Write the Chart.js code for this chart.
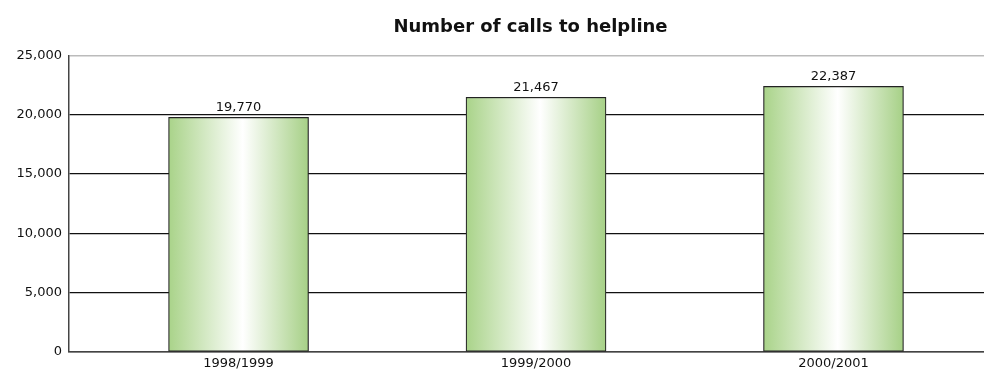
<!DOCTYPE html>
<html>
<head>
<meta charset="utf-8">
<script src="https://cdn.jsdelivr.net/npm/chart.js@4/dist/chart.umd.min.js"></script>
<style>
  html, body { margin: 0; padding: 0; background: #fff; }
  #wrap { width: 984px; height: 372px; position: relative; }
</style>
</head>
<body>
<div id="wrap"><canvas id="calls-chart"></canvas></div>
<script>
const categories = ["1998/1999", "1999/2000", "2000/2001"];
const calls = [19770, 21467, 22387];
const yTicks = [0, 5000, 10000, 15000, 20000, 25000];
const titleText = "Number of calls to helpline";

const fmt = (v) => v.toLocaleString("en-US");

// horizontal green -> white -> green fill for each bar
function barFill(ctx) {
  const chart = ctx.chart;
  const xs = chart.scales.x;
  if (!chart.chartArea || !xs || ctx.dataIndex === undefined) return "#b5d99a";
  const cx = xs.getPixelForValue(ctx.dataIndex);
  const g = chart.ctx.createLinearGradient(cx - 70, 0, cx + 70, 0);
  g.addColorStop(0, "#a9d389");
  g.addColorStop(0.53, "#ffffff");
  g.addColorStop(1, "#a6d086");
  return g;
}

const valueLabels = {
  id: "valueLabels",
  afterDatasetsDraw(chart) {
    const c = chart.ctx;
    const meta = chart.getDatasetMeta(0);
    c.save();
    c.font = "13px 'DejaVu Sans'";
    c.fillStyle = "#111";
    c.textAlign = "center";
    c.textBaseline = "alphabetic";
    meta.data.forEach((bar, i) => {
      c.fillText(fmt(calls[i]), bar.x, bar.y - 6);
    });
    // title centred over the plot area rather than the canvas
    const area = chart.chartArea;
    c.font = "bold 18px 'DejaVu Sans'";
    c.textBaseline = "middle";
    c.fillText(titleText, (area.left + area.right) / 2 + 4, 27);
    c.restore();
  }
};

new Chart(document.getElementById("calls-chart"), {
  type: "bar",
  data: {
    datasets: [{
      data: calls.map((v, i) => ({ x: i, y: v })),
      backgroundColor: barFill,
      borderColor: "#222",
      borderWidth: 1.2,
      borderSkipped: false,
      barThickness: 140
    }]
  },
  options: {
    responsive: true,
    maintainAspectRatio: false,
    animation: false,
    layout: { padding: 0 },
    plugins: {
      legend: { display: false },
      tooltip: { enabled: false },
      title: {
        // only reserves the space; text is drawn by valueLabels
        display: true,
        text: titleText,
        color: "rgba(0,0,0,0)",
        font: { family: "DejaVu Sans", size: 17, weight: "bold", lineHeight: 1.2 },
        padding: { top: 17, bottom: 18 }
      }
    },
    scales: {
      x: {
        type: "linear",
        offset: false,
        min: -0.57,
        max: 2.506,
        afterBuildTicks: (s) => { s.ticks = categories.map((_, i) => ({ value: i })); },
        afterFit: (s) => { s.height = 20; },
        grid: { display: false, drawTicks: false, offset: false },
        border: { display: true, color: "#444", width: 1.5 },
        ticks: {
          callback: (v) => categories[v],
          color: "#111",
          padding: 4,
          maxRotation: 0,
          font: { family: "DejaVu Sans", size: 13 }
        }
      },
      y: {
        min: 0,
        max: 25000,
        afterBuildTicks: (s) => { s.ticks = yTicks.map((v) => ({ value: v })); },
        afterFit: (s) => { s.width = 69; },
        grid: {
          color: (ctx) => (ctx.tick && ctx.tick.value === 25000 ? "#bbb" : "#111"),
          lineWidth: (ctx) => (ctx.tick && ctx.tick.value === 25000 ? 1.5 : 1.2),
          drawTicks: false
        },
        border: { display: true, color: "#444", width: 1.5 },
        ticks: {
          callback: (v) => fmt(v),
          color: "#111",
          padding: 7,
          font: { family: "DejaVu Sans", size: 13 }
        }
      }
    }
  },
  plugins: [valueLabels]
});
</script>
</body>
</html>
